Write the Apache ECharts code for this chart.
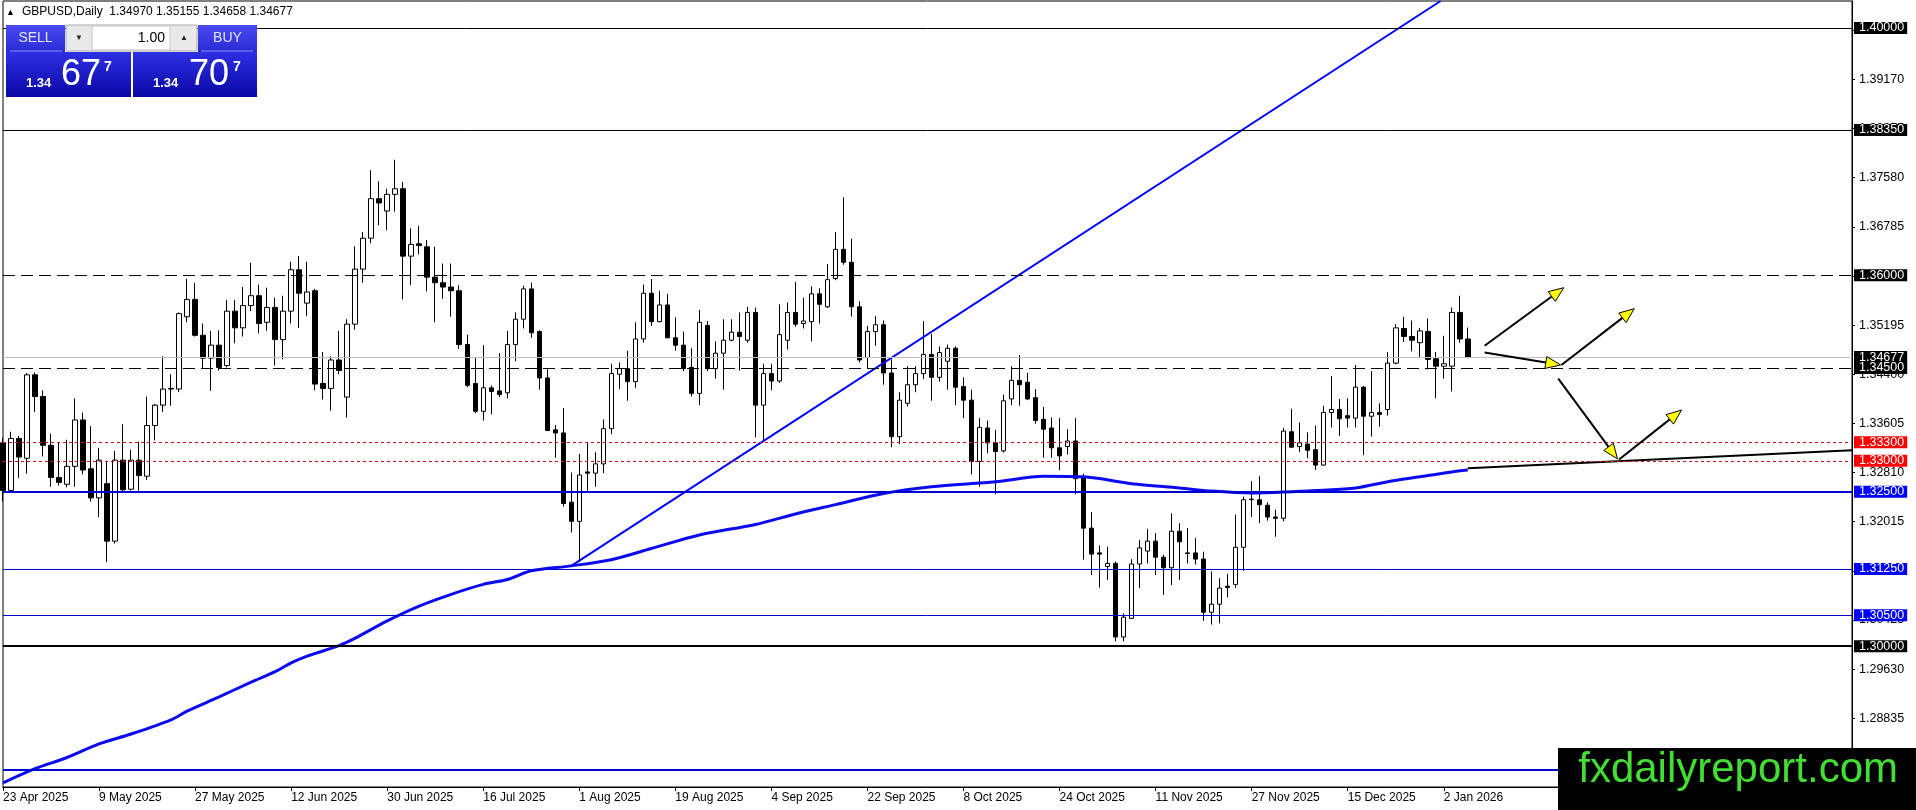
<!DOCTYPE html>
<html><head><meta charset="utf-8">
<script src="https://cdn.jsdelivr.net/npm/echarts@6/dist/echarts.min.js"></script>
<style>html,body{margin:0;padding:0;background:#fff;}#c{width:1916px;height:810px;}</style>
</head><body><div id="c"></div>
<script>
// ---------- DATA ----------
const opens = [1.3329,1.3252,1.3336,1.3304,1.3439,1.3404,1.3325,1.3273,1.3262,1.3291,
1.3366,1.3287,1.3240,1.3263,1.3170,1.3301,1.3254,1.3301,1.3275,1.3357,
1.3390,1.3416,1.3416,1.3533,1.3561,1.3503,1.3466,1.3487,1.3454,1.3542,
1.3515,1.3551,1.3567,1.3524,1.3548,1.3496,1.3542,1.3609,1.3555,1.3575,
1.3425,1.3417,1.3463,1.3403,1.3521,1.3610,1.3660,1.3724,1.3704,1.3731,
1.3740,1.3631,1.3651,1.3646,1.3597,1.3588,1.3581,1.3575,1.3488,1.3425,
1.3380,1.3418,1.3413,1.3410,1.3488,1.3529,1.3578,1.3509,1.3434,1.3350,
1.3345,1.3233,1.3202,1.3282,1.3280,1.3295,1.3352,1.3440,1.3449,1.3428,
1.3497,1.3571,1.3525,1.3552,1.3499,1.3487,1.3451,1.3409,1.3519,1.3449,
1.3474,1.3495,1.3508,1.3495,1.3540,1.3390,1.3441,1.3429,1.3495,1.3540,
1.3522,1.3525,1.3570,1.3549,1.3595,1.3642,1.3621,1.3549,1.3467,1.3509,
1.3520,1.3442,1.3339,1.3393,1.3423,1.3441,1.3472,1.3435,1.3461,1.3482,
1.3420,1.3398,1.3299,1.3353,1.3329,1.3316,1.3400,1.3430,1.3427,1.3402,
1.3367,1.3353,1.3321,1.3323,1.3332,1.3274,1.3191,1.3151,1.3129,1.3134,
1.3015,1.3045,1.3133,1.3154,1.3170,1.3144,1.3127,1.3186,1.3151,1.3151,
1.3141,1.3055,1.3068,1.3097,1.3100,1.3160,1.3237,1.3237,1.3228,1.3209,
1.3207,1.3347,1.3323,1.3327,1.3318,1.3293,1.3378,1.3383,1.3373,1.3369,
1.3419,1.3372,1.3378,1.3383,1.3458,1.3514,1.3501,1.3491,1.3509,1.3465,
1.3453,1.3453,1.3540,1.34970];
const highs = [1.3337,1.3347,1.3340,1.3442,1.3443,1.3414,1.3344,1.3330,1.3334,1.3401,
1.3378,1.3356,1.3321,1.3300,1.3316,1.3359,1.3318,1.3331,1.3404,1.3392,
1.3469,1.3440,1.3540,1.3594,1.3588,1.3522,1.3510,1.3511,1.3560,1.3560,
1.3581,1.3620,1.3585,1.3580,1.3564,1.3567,1.3622,1.3631,1.3622,1.3578,
1.3476,1.3469,1.3510,1.3529,1.3647,1.3670,1.3770,1.3752,1.3740,1.3787,
1.3751,1.3676,1.3680,1.3657,1.3646,1.3619,1.3619,1.3584,1.3504,1.3467,
1.3487,1.3422,1.3474,1.3510,1.3540,1.3583,1.3588,1.3511,1.3450,1.3358,
1.3385,1.3281,1.3311,1.3329,1.3314,1.3367,1.3457,1.3459,1.3478,1.3524,
1.3585,1.3594,1.3575,1.3570,1.3532,1.3509,1.3482,1.3544,1.3526,1.3493,
1.3529,1.3529,1.3540,1.3549,1.3548,1.3457,1.3457,1.3553,1.3556,1.3589,
1.3564,1.3582,1.3579,1.3618,1.3670,1.3726,1.3659,1.3558,1.3518,1.3534,
1.3527,1.3464,1.3411,1.3453,1.3453,1.3526,1.3505,1.3485,1.3488,1.3485,
1.3435,1.3415,1.3369,1.3365,1.3350,1.3407,1.3453,1.3471,1.3442,1.3416,
1.3387,1.3370,1.3369,1.3351,1.3369,1.3279,1.3217,1.3163,1.3161,1.3137,
1.3053,1.3141,1.3172,1.3190,1.3183,1.3148,1.3215,1.3199,1.3191,1.3175,
1.3153,1.3121,1.3110,1.3117,1.3213,1.3242,1.3267,1.3275,1.3233,1.3221,
1.3353,1.3384,1.3362,1.3346,1.3357,1.3389,1.3437,1.3400,1.3401,1.3455,
1.3421,1.3445,1.3393,1.3476,1.3521,1.3533,1.3527,1.3515,1.3530,1.3476,
1.3502,1.3548,1.3567,1.35155];
const lows = [1.3234,1.3250,1.3272,1.3279,1.3379,1.3307,1.3258,1.3260,1.3257,1.3258,
1.3278,1.3234,1.3209,1.3136,1.3166,1.3250,1.3252,1.3250,1.3269,1.3333,
1.3379,1.3389,1.3411,1.3524,1.3501,1.3450,1.3413,1.3446,1.3451,1.3490,
1.3501,1.3542,1.3506,1.3510,1.3454,1.3464,1.3522,1.3515,1.3534,1.3414,
1.3399,1.3381,1.3440,1.3370,1.3512,1.3588,1.3652,1.3681,1.3673,1.3703,
1.3561,1.3584,1.3634,1.3574,1.3524,1.3562,1.3533,1.3481,1.3419,1.3377,
1.3365,1.3375,1.3403,1.3401,1.3461,1.3514,1.3499,1.3415,1.3348,1.3305,
1.3226,1.3184,1.3136,1.3250,1.3258,1.3280,1.3343,1.3416,1.3397,1.3418,
1.3491,1.3518,1.3524,1.3498,1.3478,1.3445,1.3404,1.3390,1.3445,1.3433,
1.3415,1.3493,1.3446,1.3491,1.3338,1.3331,1.3414,1.3426,1.3480,1.3517,
1.3514,1.3493,1.3522,1.3547,1.3592,1.3617,1.3533,1.3459,1.3450,1.3486,
1.3423,1.3322,1.3327,1.3388,1.3411,1.3432,1.3397,1.3428,1.3415,1.3390,
1.3369,1.3278,1.3258,1.3312,1.3246,1.3313,1.3390,1.3389,1.3398,1.3360,
1.3305,1.3305,1.3285,1.3310,1.3246,1.3140,1.3115,1.3095,1.3107,1.3008,
1.3008,1.3044,1.3094,1.3134,1.3115,1.3083,1.3099,1.3107,1.3134,1.3132,
1.3041,1.3035,1.3037,1.3079,1.3094,1.3122,1.3209,1.3199,1.3203,1.3177,
1.3202,1.3321,1.3314,1.3304,1.3285,1.3292,1.3354,1.3340,1.3354,1.3354,
1.3309,1.3339,1.3355,1.3373,1.3456,1.3492,1.3477,1.3467,1.3448,1.3401,
1.3433,1.3412,1.3491,1.34658];
const closes = [1.3252,1.3336,1.3306,1.3439,1.3404,1.3325,1.3273,1.3265,1.3291,1.3366,
1.3285,1.3240,1.3301,1.3170,1.3301,1.3253,1.3301,1.3276,1.3357,1.3390,
1.3416,1.3417,1.3538,1.3561,1.3503,1.3466,1.3487,1.3451,1.3542,1.3515,
1.3551,1.3567,1.3522,1.3548,1.3496,1.3542,1.3609,1.3571,1.3573,1.3424,
1.3417,1.3463,1.3446,1.3521,1.3610,1.3660,1.3724,1.3717,1.3731,1.3740,
1.3631,1.3650,1.3648,1.3597,1.3588,1.3581,1.3575,1.3488,1.3422,1.3380,
1.3418,1.3412,1.3407,1.3488,1.3529,1.3578,1.3507,1.3434,1.3349,1.3345,
1.3231,1.3202,1.3277,1.3280,1.3295,1.3352,1.3441,1.3449,1.3428,1.3497,
1.3571,1.3525,1.3552,1.3499,1.3487,1.3449,1.3409,1.3524,1.3449,1.3474,
1.3495,1.3508,1.3501,1.3540,1.3390,1.3441,1.3429,1.3504,1.3540,1.3521,
1.3526,1.3570,1.3553,1.3593,1.3642,1.3621,1.3549,1.3463,1.3509,1.3520,
1.3442,1.3339,1.3398,1.3423,1.3441,1.3472,1.3435,1.3475,1.3482,1.3419,
1.3398,1.3299,1.3354,1.3329,1.3315,1.3397,1.3430,1.3423,1.3400,1.3365,
1.3351,1.3321,1.3308,1.3332,1.3271,1.3191,1.3149,1.3149,1.3134,1.3015,
1.3047,1.3133,1.3159,1.3170,1.3144,1.3127,1.3186,1.3169,1.3150,1.3141,
1.3055,1.3068,1.3094,1.3095,1.3160,1.3237,1.3238,1.3229,1.3209,1.3207,
1.3348,1.3322,1.3329,1.3317,1.3293,1.3378,1.3383,1.3368,1.3369,1.3419,
1.3372,1.3378,1.3375,1.3458,1.3515,1.3501,1.3495,1.3510,1.3464,1.3453,
1.3457,1.3540,1.3497,1.34677];

const dateTickLabels = ['23 Apr 2025','9 May 2025','27 May 2025','12 Jun 2025','30 Jun 2025','16 Jul 2025',
'1 Aug 2025','19 Aug 2025','4 Sep 2025','22 Sep 2025','8 Oct 2025','24 Oct 2025','11 Nov 2025',
'27 Nov 2025','15 Dec 2025','2 Jan 2026'];
const barsPerDateTick = 12;
const totalSlots = 232;

const priceTicks = [1.28040,1.28835,1.29630,1.30425,1.31220,1.32015,1.32810,1.33605,1.34400,
1.35195,1.35990,1.36785,1.37580,1.38375,1.39170,1.39965];
const priceMin = 1.27723, priceMax = 1.40437;

const maIndex = [0,4,8,12,16,21,23,27,31,34,36,38,42,44,48,52,56,60,63,66,71,76,81,87,94,99,104,110,116,124,130,135,141,147,151,156,161,164,169,173,177,181,183];
const maValue = [1.2779,1.2802,1.2820,1.2842,1.2858,1.2881,1.2895,1.2918,1.2942,1.2959,1.2973,1.2984,1.3001,1.3013,1.3041,1.3065,1.3084,1.3100,1.3108,1.3122,1.3130,1.3140,1.3158,1.3180,1.3197,1.3214,1.3229,1.3247,1.3258,1.3266,1.3275,1.3274,1.3263,1.3256,1.3251,1.3248,1.3250,1.3252,1.3256,1.3266,1.3274,1.3282,1.3285];

const levelPrices = [1.40000,1.38350,1.36000,1.34677,1.34500,1.33300,1.33000,1.32500,1.31250,1.30500,1.30000,1.28000];

const trendFromX = [71, 183];
const trendFromY = [1.3130, 1.3288];
const trendToX = [179.6, 231];
const trendToY = [1.40437, 1.3317];

const arrowFromX = [185.1, 185.1, 194.7, 194.3, 201.9];
const arrowFromY = [1.3486, 1.3475, 1.3455, 1.3433, 1.3302];
const arrowToX = [195.0, 194.6, 203.8, 201.7, 209.7];
const arrowToY = [1.3580, 1.3455, 1.3546, 1.3303, 1.3382];

// ---------- STYLES ----------
const BLUE_LINE = '#0000d0', BLUE_BOX = '#0000ff', RED_LINE = '#d01010', RED_BOX = '#ff0000';
const levelStyleList = [
  {c:'#000', w:1, t:'solid', bg:'#000'},
  {c:'#000', w:1, t:'solid', bg:'#000'},
  {c:'#000', w:1, t:[12,6], bg:'#000'},
  {c:'#c0c0c0', w:1, t:'solid', bg:'#000'},
  {c:'#000', w:1, t:[12,6], bg:'#000'},
  {c:RED_LINE, w:1, t:[3,3], bg:RED_BOX},
  {c:RED_LINE, w:1, t:[3,3], bg:RED_BOX},
  {c:BLUE_LINE, w:2, t:'solid', bg:BLUE_BOX},
  {c:BLUE_LINE, w:1, t:'solid', bg:BLUE_BOX},
  {c:BLUE_LINE, w:1, t:'solid', bg:BLUE_BOX},
  {c:'#000', w:2, t:'solid', bg:'#000'},
  {c:BLUE_LINE, w:2, t:'solid', bg:BLUE_BOX}
];
const trendColors = ['#0000ff', '#000000'];
const FONT = 'Liberation Sans, Arial, sans-serif';
const AXIS_FS = 12.5;

// ---------- BUILD ----------
const categories = Array.from({length: totalSlots}, (_, i) => String(i));
const candleData = opens.map((o, i) => [o, closes[i], lows[i], highs[i]]);
const maData = maIndex.map((x, i) => [x, maValue[i]]);
const isDateTick = (i) => i % barsPerDateTick === 0 && (i / barsPerDateTick) < dateTickLabels.length;

const markLineData = levelPrices.map((v, k) => {
  const s = levelStyleList[k];
  return {
    yAxis: v,
    lineStyle: {color: s.c, width: s.w, type: s.t},
    label: {
      show: true, position: 'end', distance: 2,
      formatter: v.toFixed(5),
      color: '#fff', backgroundColor: s.bg,
      fontFamily: FONT, fontSize: AXIS_FS, lineHeight: 12,
      padding: [0, 3, 0, 5]
    }
  };
});

function makePt(api) {
  return function (xv, yv) {
    const f = Math.floor(xv);
    const a = api.coord([f, yv]);
    const b = api.coord([f + 1, yv]);
    return [a[0] + (b[0] - a[0]) * (xv - f), a[1]];
  };
}

const chart = echarts.init(document.getElementById('c'), null, {renderer: 'canvas'});
const blueGrad = (top, bot) => new echarts.graphic.LinearGradient(0, 0, 0, 1, [{offset: 0, color: top}, {offset: 1, color: bot}]);

chart.setOption({
  animation: false,
  backgroundColor: '#fff',
  grid: {left: 2, right: 64, top: 1, bottom: 23, show: true, borderColor: '#000', borderWidth: 1, backgroundColor: '#fff'},
  xAxis: {
    type: 'category', data: categories, boundaryGap: false,
    axisLine: {show: true, lineStyle: {color: '#000', width: 1}},
    axisTick: {show: true, interval: (i) => isDateTick(i), length: 4, lineStyle: {color: '#000'}},
    axisLabel: {
      show: true, interval: (i) => isDateTick(i), align: 'left', margin: 5,
      color: '#000', fontFamily: FONT, fontSize: 12,
      formatter: (v, i) => isDateTick(i) ? dateTickLabels[i / barsPerDateTick] : ''
    },
    splitLine: {show: false}
  },
  yAxis: {
    type: 'value', position: 'right', min: priceMin, max: priceMax, scale: true,
    axisLine: {show: true, lineStyle: {color: '#000', width: 1}},
    axisTick: {show: true, length: 3, customValues: priceTicks, lineStyle: {color: '#000'}},
    axisLabel: {show: true, customValues: priceTicks, margin: 7, color: '#000', fontFamily: FONT, fontSize: AXIS_FS,
      formatter: (v) => Number(v).toFixed(5)},
    splitLine: {show: false}
  },
  series: [
    {
      name: 'levels', type: 'line', data: [], z: 1, silent: true,
      markLine: {silent: true, precision: 5, symbol: ['none', 'none'], animation: false, data: markLineData}
    },
    {
      name: 'GBPUSD', type: 'candlestick', data: candleData, barWidth: 5, z: 2, clip: true,
      itemStyle: {color: '#ffffff', color0: '#000000', borderColor: '#000000', borderColor0: '#000000', borderWidth: 1}
    },
    {
      name: 'MA', type: 'line', data: maData, smooth: 0.3, showSymbol: false, symbol: 'none', z: 3,
      lineStyle: {color: '#0a0af0', width: 3}
    },
    {
      name: 'trend', type: 'custom', z: 4, silent: true,
      data: trendFromX.map((_, i) => [i]),
      renderItem: (params, api) => {
        const i = params.dataIndex, pt = makePt(api);
        const p1 = pt(trendFromX[i], trendFromY[i]), p2 = pt(trendToX[i], trendToY[i]);
        return {type: 'line', shape: {x1: p1[0], y1: p1[1], x2: p2[0], y2: p2[1]},
          style: {stroke: trendColors[i], lineWidth: 2}};
      }
    },
    {
      name: 'arrows', type: 'custom', z: 5, silent: true,
      data: arrowFromX.map((_, i) => [i]),
      renderItem: (params, api) => {
        const i = params.dataIndex, pt = makePt(api);
        const p1 = pt(arrowFromX[i], arrowFromY[i]), p2 = pt(arrowToX[i], arrowToY[i]);
        const dx = p2[0] - p1[0], dy = p2[1] - p1[1], len = Math.hypot(dx, dy);
        const ux = dx / len, uy = dy / len, L = 15, W = 6;
        const bx = p2[0] - ux * L, by = p2[1] - uy * L;
        return {type: 'group', children: [
          {type: 'line', shape: {x1: p1[0], y1: p1[1], x2: bx, y2: by}, style: {stroke: '#000', lineWidth: 2}},
          {type: 'polygon', shape: {points: [[p2[0], p2[1]], [bx - uy * W, by + ux * W], [bx + uy * W, by - ux * W]]},
            style: {fill: '#ffff00', stroke: '#000', lineWidth: 1}}
        ]};
      }
    }
  ],
  graphic: [
    {type: 'text', left: 6, top: 8, z: 100, style: {text: '▲', fill: '#000', font: '9px ' + FONT}},
    {type: 'text', left: 22, top: 6, z: 100, style: {text: 'GBPUSD,Daily  1.34970 1.35155 1.34658 1.34677', fill: '#000', font: '12px ' + FONT}},
    // SELL header
    {type: 'rect', z: 100, shape: {x: 6, y: 25, width: 59, height: 27}, style: {fill: blueGrad('#4a4af2', '#2b2bd6')}},
    {type: 'line', z: 101, shape: {x1: 10, y1: 51, x2: 62, y2: 51}, style: {stroke: '#8c8cff', lineWidth: 1}},
    {type: 'text', z: 101, x: 35.5, y: 38.5, style: {text: 'SELL', fill: '#dfe5ff', font: '14px ' + FONT, align: 'center', verticalAlign: 'middle'}},
    // lot box
    {type: 'rect', z: 100, shape: {x: 66, y: 25, width: 131, height: 26}, style: {fill: '#e9e9e9', stroke: '#a8a8a8', lineWidth: 1}},
    {type: 'rect', z: 101, shape: {x: 92, y: 26, width: 78, height: 24}, style: {fill: '#ffffff', stroke: '#c8c8c8', lineWidth: 1}},
    {type: 'text', z: 102, x: 79, y: 38, style: {text: '▼', fill: '#222', font: '8px ' + FONT, align: 'center', verticalAlign: 'middle'}},
    {type: 'text', z: 102, x: 184, y: 38, style: {text: '▲', fill: '#222', font: '8px ' + FONT, align: 'center', verticalAlign: 'middle'}},
    {type: 'text', z: 102, x: 165, y: 38.5, style: {text: '1.00', fill: '#000', font: '14px ' + FONT, align: 'right', verticalAlign: 'middle'}},
    // BUY header
    {type: 'rect', z: 100, shape: {x: 198, y: 25, width: 59, height: 27}, style: {fill: blueGrad('#4a4af2', '#2b2bd6')}},
    {type: 'line', z: 101, shape: {x1: 201, y1: 51, x2: 253, y2: 51}, style: {stroke: '#8c8cff', lineWidth: 1}},
    {type: 'text', z: 101, x: 227.5, y: 38.5, style: {text: 'BUY', fill: '#dfe5ff', font: '14px ' + FONT, align: 'center', verticalAlign: 'middle'}},
    // price boxes
    {type: 'rect', z: 100, shape: {x: 6, y: 52, width: 125, height: 45}, style: {fill: blueGrad('#2f2fe4', '#0808a6')}},
    {type: 'rect', z: 100, shape: {x: 133, y: 52, width: 124, height: 45}, style: {fill: blueGrad('#2f2fe4', '#0808a6')}},
    {type: 'text', z: 101, x: 26, y: 83, style: {text: '1.34', fill: '#fff', font: 'bold 13px ' + FONT, verticalAlign: 'middle'}},
    {type: 'text', z: 101, x: 61, y: 75, style: {text: '67', fill: '#fff', font: '36px ' + FONT, verticalAlign: 'middle'}},
    {type: 'text', z: 101, x: 104, y: 67, style: {text: '7', fill: '#fff', font: 'bold 14px ' + FONT, verticalAlign: 'middle'}},
    {type: 'text', z: 101, x: 153, y: 83, style: {text: '1.34', fill: '#fff', font: 'bold 13px ' + FONT, verticalAlign: 'middle'}},
    {type: 'text', z: 101, x: 189, y: 75, style: {text: '70', fill: '#fff', font: '36px ' + FONT, verticalAlign: 'middle'}},
    {type: 'text', z: 101, x: 233, y: 67, style: {text: '7', fill: '#fff', font: 'bold 14px ' + FONT, verticalAlign: 'middle'}},
    // watermark
    {type: 'rect', z: 200, shape: {x: 1558, y: 748, width: 358, height: 62}, style: {fill: '#000'}},
    {type: 'text', z: 201, x: 1898, y: 770, style: {text: 'fxdailyreport.com', fill: '#44dd33', font: '42px ' + FONT, align: 'right', verticalAlign: 'middle'}}
  ]
});
</script>
</body></html>
